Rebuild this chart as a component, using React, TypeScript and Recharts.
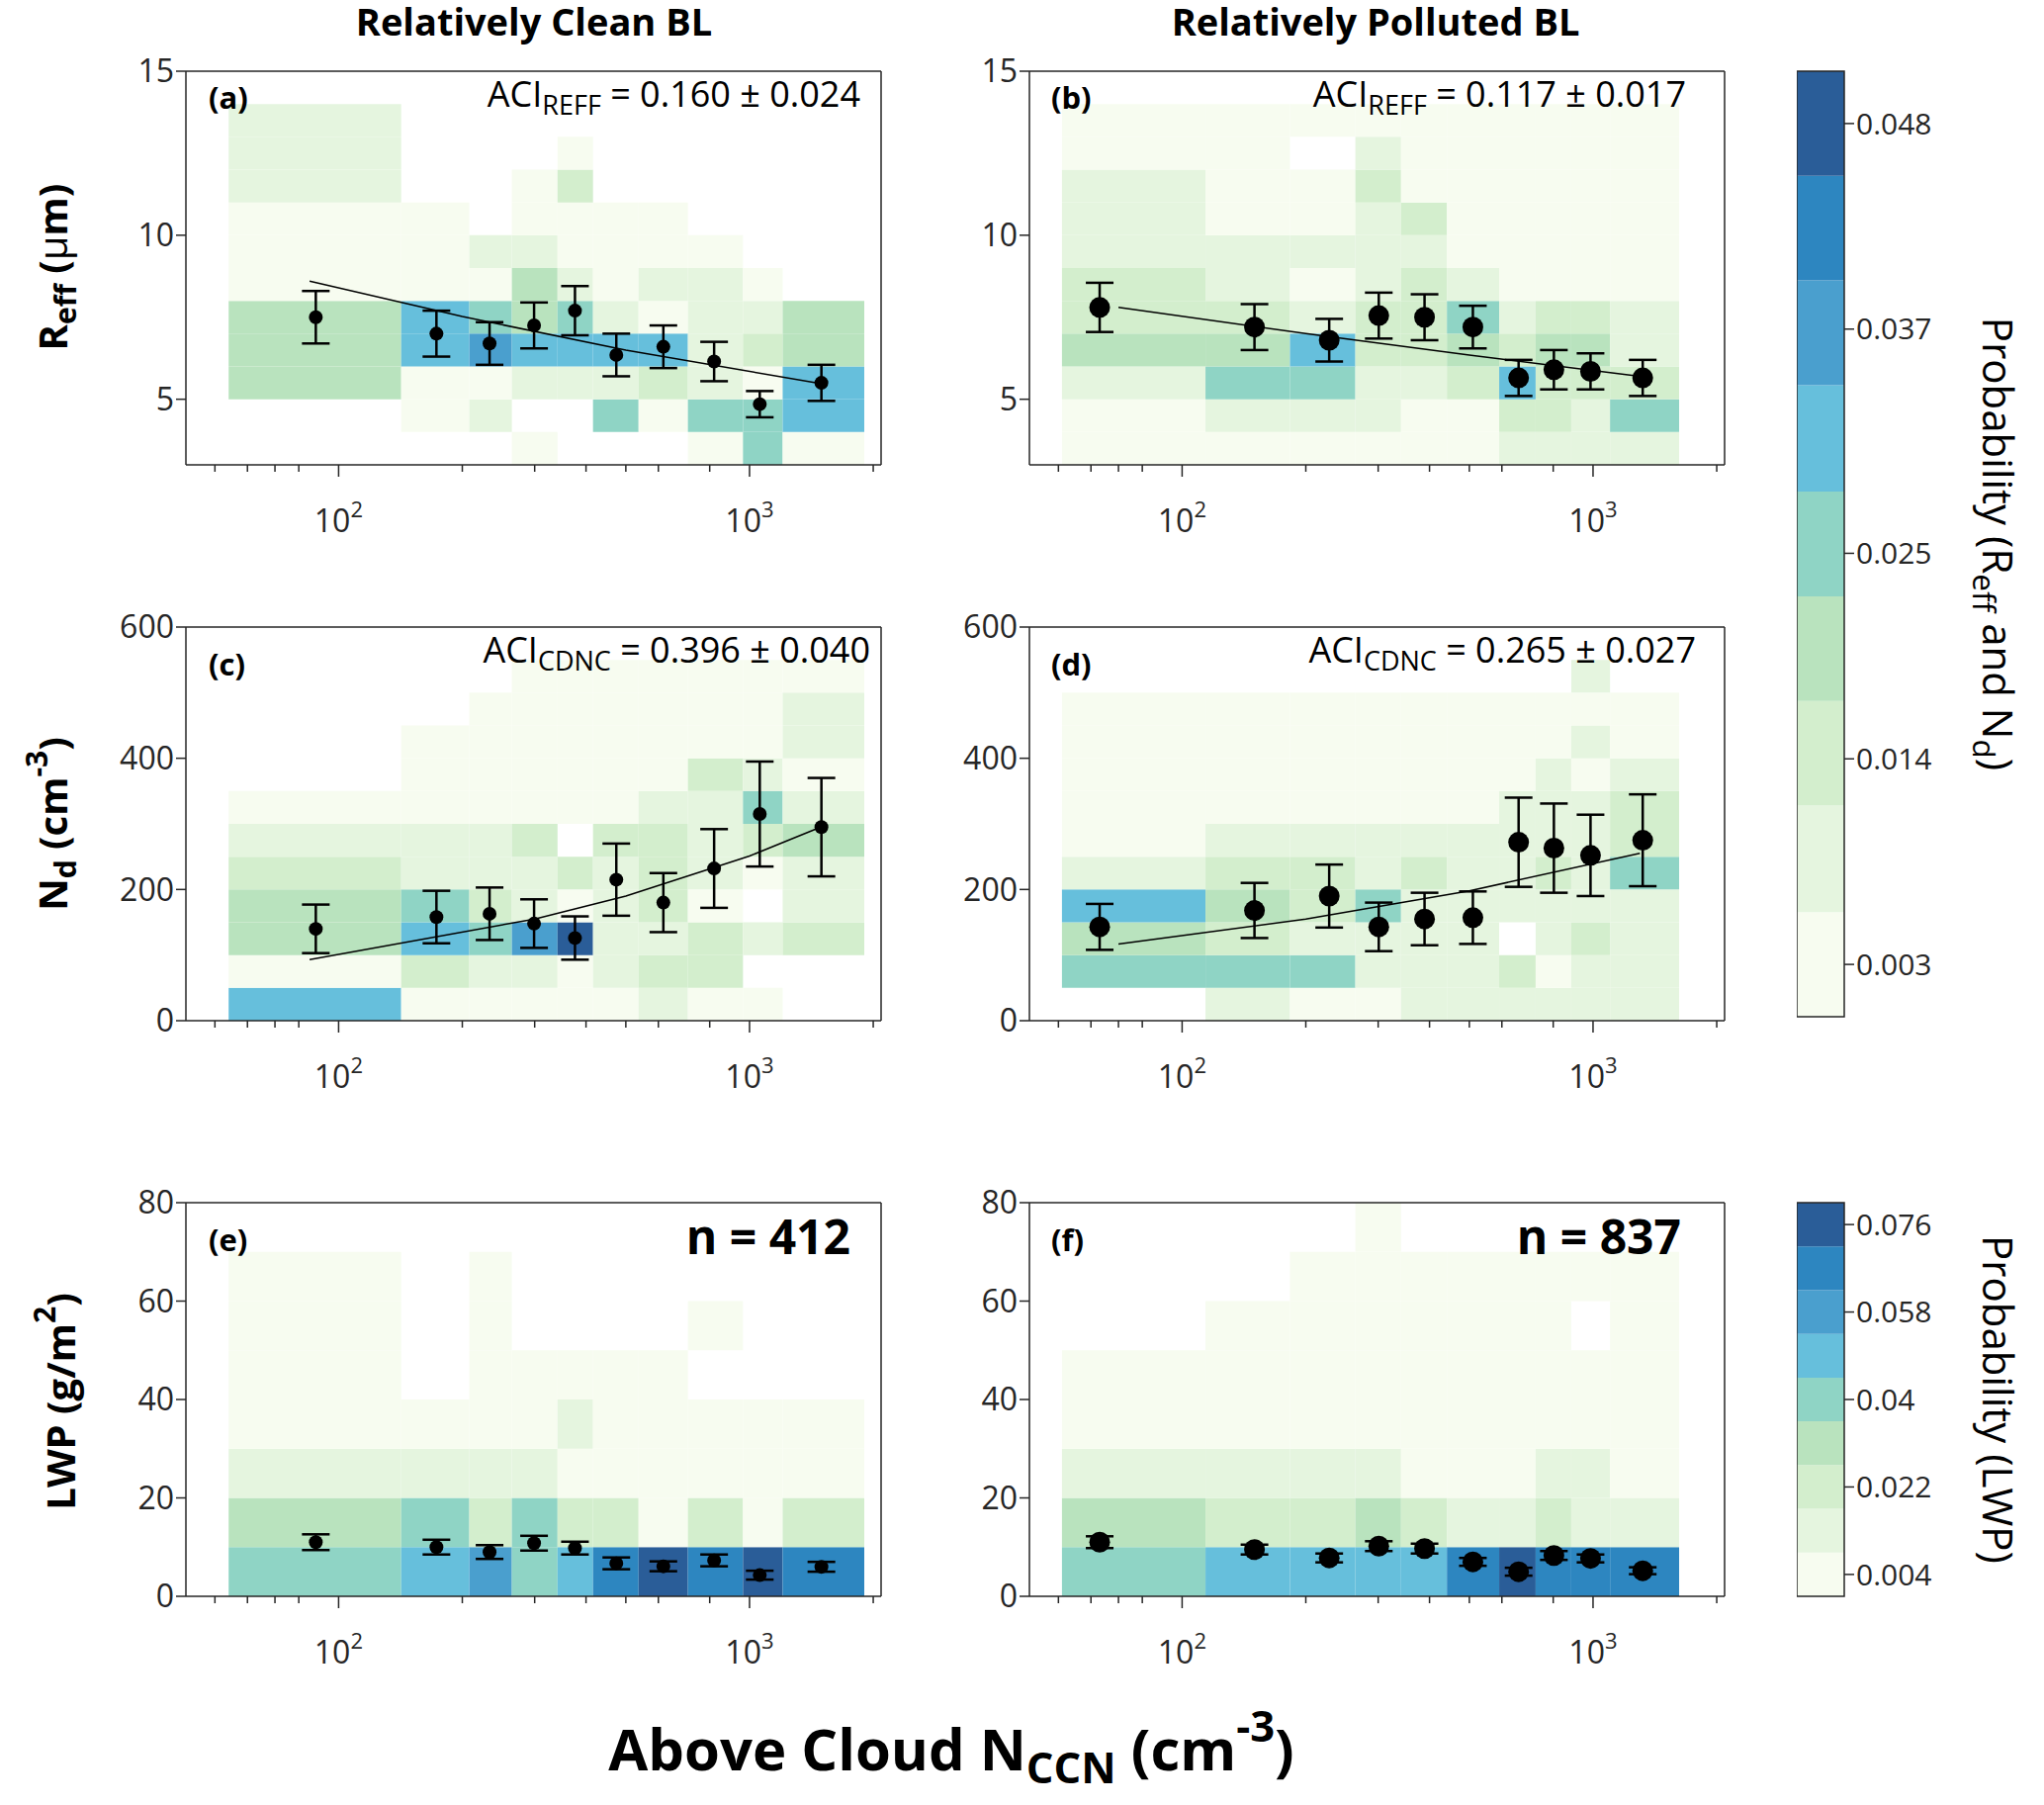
import React from 'react';
import { ScatterChart, Scatter, XAxis, YAxis, ReferenceArea, ErrorBar } from 'recharts';

// bin edges of the above-cloud N_CCN (cm^-3)
const cleanEdges = [54, 142, 208, 264, 341, 416, 537, 708, 964, 1204, 1902];
const pollutedEdges = [51, 114, 183, 264, 341, 441, 591, 725, 885, 1100, 1620];

const reffRows = [3, 4, 5, 6, 7, 8, 9, 10, 11, 12, 13, 14];
const ndRows = [0, 50, 100, 150, 200, 250, 300, 350, 400, 450, 500, 550];
const lwpRows = [0, 10, 20, 30, 40, 50, 60, 70, 80];

// probability x1000, rows from bottom
const cleanReffProb = [
  [0, 0, 0, 3, 0, 0, 0, 3, 25, 3],
  [0, 3, 8, 0, 0, 25, 3, 25, 25, 31],
  [19, 3, 3, 8, 8, 8, 14, 8, 3, 31],
  [19, 31, 37, 31, 31, 31, 31, 8, 14, 19],
  [19, 31, 25, 19, 25, 8, 3, 8, 8, 19],
  [3, 3, 3, 19, 8, 3, 8, 8, 3, 0],
  [3, 3, 8, 8, 3, 3, 3, 3, 0, 0],
  [3, 3, 0, 3, 3, 3, 3, 0, 0, 0],
  [8, 0, 0, 3, 14, 0, 0, 0, 0, 0],
  [8, 0, 0, 0, 3, 0, 0, 0, 0, 0],
  [8, 0, 0, 0, 0, 0, 0, 0, 0, 0],
];
const pollutedReffProb = [
  [3, 3, 3, 3, 3, 3, 8, 8, 8, 8],
  [3, 8, 8, 8, 3, 3, 14, 14, 8, 25],
  [8, 25, 25, 8, 8, 14, 31, 14, 14, 14],
  [19, 19, 31, 14, 14, 19, 14, 19, 19, 8],
  [14, 14, 8, 14, 14, 25, 8, 14, 14, 8],
  [14, 8, 3, 8, 14, 8, 3, 3, 3, 3],
  [8, 8, 8, 8, 8, 3, 3, 3, 3, 3],
  [8, 3, 3, 8, 14, 3, 3, 3, 3, 3],
  [8, 3, 3, 14, 3, 3, 3, 3, 3, 3],
  [3, 3, 0, 8, 3, 3, 3, 3, 3, 3],
  [3, 3, 3, 3, 3, 3, 3, 3, 3, 3],
];
const cleanNdProb = [
  [31, 3, 3, 3, 3, 3, 8, 3, 3, 0],
  [3, 14, 8, 8, 3, 8, 14, 14, 0, 0],
  [19, 31, 25, 37, 48, 8, 8, 14, 8, 14],
  [19, 25, 14, 8, 3, 8, 14, 3, 0, 8],
  [14, 8, 8, 8, 14, 8, 14, 8, 3, 8],
  [8, 8, 8, 14, 0, 14, 14, 8, 14, 19],
  [3, 3, 3, 3, 3, 3, 8, 8, 25, 8],
  [0, 3, 3, 3, 3, 3, 3, 14, 8, 3],
  [0, 3, 3, 3, 3, 3, 3, 3, 3, 8],
  [0, 0, 3, 3, 3, 3, 3, 3, 3, 8],
  [0, 0, 0, 3, 3, 3, 3, 3, 3, 3],
];
const pollutedNdProb = [
  [0, 8, 3, 3, 8, 8, 8, 8, 8, 8],
  [25, 25, 25, 8, 8, 8, 14, 3, 8, 8],
  [19, 14, 8, 8, 8, 8, 0, 8, 14, 8],
  [31, 19, 14, 25, 8, 8, 8, 8, 8, 8],
  [8, 14, 14, 8, 14, 8, 8, 14, 8, 25],
  [3, 8, 8, 8, 8, 8, 8, 8, 8, 14],
  [3, 3, 3, 3, 3, 3, 8, 8, 8, 14],
  [3, 3, 3, 3, 3, 3, 3, 8, 3, 8],
  [3, 3, 3, 3, 3, 3, 3, 3, 8, 3],
  [3, 3, 3, 3, 3, 3, 3, 3, 3, 3],
  [0, 0, 0, 0, 0, 0, 0, 0, 8, 0],
];
const cleanLwpProb = [
  [40, 49, 58, 40, 49, 67, 76, 67, 76, 67],
  [31, 40, 22, 40, 22, 22, 4, 22, 4, 22],
  [13, 13, 13, 13, 4, 4, 4, 4, 4, 4],
  [4, 4, 4, 4, 13, 4, 4, 4, 4, 4],
  [4, 0, 4, 4, 4, 4, 4, 0, 0, 0],
  [4, 0, 4, 0, 0, 0, 0, 4, 0, 0],
  [4, 0, 4, 0, 0, 0, 0, 0, 0, 0],
  [0, 0, 0, 0, 0, 0, 0, 0, 0, 0],
];
const pollutedLwpProb = [
  [40, 49, 49, 49, 49, 67, 76, 67, 67, 67],
  [31, 22, 22, 31, 22, 13, 13, 22, 13, 13],
  [13, 13, 13, 13, 4, 4, 4, 13, 13, 4],
  [4, 4, 4, 4, 4, 4, 4, 4, 4, 4],
  [4, 4, 4, 4, 4, 4, 4, 4, 4, 4],
  [0, 4, 4, 4, 4, 4, 4, 4, 0, 4],
  [0, 0, 4, 4, 4, 4, 4, 4, 4, 4],
  [0, 0, 0, 4, 0, 0, 0, 0, 0, 0],
];

// bin means with error bars
const cleanCcn = [88, 173, 233, 299, 376, 474, 617, 820, 1059, 1496];
const pollutedCcn = [63, 150, 228, 301, 389, 510, 659, 803, 986, 1321];
const cleanReff = [7.5, 7.0, 6.7, 7.25, 7.7, 6.35, 6.6, 6.15, 4.85, 5.5];
const cleanReffErr = [0.8, 0.7, 0.65, 0.7, 0.75, 0.65, 0.65, 0.6, 0.4, 0.55];
const pollutedReff = [7.8, 7.2, 6.8, 7.55, 7.5, 7.2, 5.65, 5.9, 5.85, 5.65];
const pollutedReffErr = [0.75, 0.7, 0.65, 0.7, 0.7, 0.65, 0.55, 0.6, 0.55, 0.55];
const cleanNd = [140, 158, 163, 148, 126, 215, 180, 232, 315, 295];
const cleanNdErr = [37, 40, 40, 37, 33, 55, 45, 60, 80, 75];
const pollutedNd = [143, 168, 190, 143, 155, 157, 272, 263, 252, 275];
const pollutedNdErr = [35, 42, 48, 37, 40, 40, 68, 68, 62, 70];
const cleanLwp = [11, 10, 9, 10.8, 9.8, 6.7, 6.1, 7.3, 4.3, 6.0];
const cleanLwpErr = [1.6, 1.5, 1.4, 1.5, 1.3, 1.2, 1.0, 1.2, 0.9, 1.0];
const pollutedLwp = [11, 9.5, 7.8, 10.2, 9.7, 7, 5, 8.3, 7.7, 5.2];
const pollutedLwpErr = [1.2, 1.0, 0.9, 1.0, 1.0, 0.8, 0.8, 0.9, 0.8, 0.7];

// fitted power-law lines
const cleanReffFit = [[85, 8.6], [200, 7.52], [500, 6.5], [1450, 5.5]];
const pollutedReffFit = [[70, 7.8], [200, 7.0], [500, 6.35], [1300, 5.7]];
const cleanNdFit = [[85, 93], [300, 155], [500, 190], [1000, 251], [1450, 292]];
const pollutedNdFit = [[70, 117], [200, 155], [500, 198], [1300, 255]];

const palette = ['#f7fcf0', '#e5f5df', '#d3eecd', '#b9e3be', '#8fd4c5', '#66bfdc', '#4a9fce', '#2d86c0', '#2a5d98'];
const topBandEdges = [0.0002, 0.0058, 0.0115, 0.0171, 0.0227, 0.0283, 0.034, 0.0396, 0.0452, 0.0508];
const topTicks = [0.003, 0.014, 0.025, 0.037, 0.048];
const lwpBandEdges = [-0.0005, 0.0085, 0.0175, 0.0265, 0.0355, 0.0445, 0.0535, 0.0625, 0.0715, 0.0805];
const lwpTicks = [0.004, 0.022, 0.04, 0.058, 0.076];

const logTicks = [50, 60, 70, 80, 90, 100, 200, 300, 400, 500, 600, 700, 800, 900, 1000, 2000];
const FONT = '"Open Sans", "Noto Sans", sans-serif';
const INK = '#262626';

const PW = 703;
const PH = 398;
const YW = 90;
const YR = 12;
const XT = 30;
const XB = 80;

function colorFor(v: number, edges: number[]) {
  if (v <= 0) return null;
  for (let i = 0; i < edges.length - 1; i++) if (v < edges[i + 1]) return palette[i];
  return palette[palette.length - 1];
}

const BottomTick = (props: any) => {
  const { x, y, payload } = props;
  const v = payload.value;
  const major = v === 100 || v === 1000;
  return (
    <g>
      <line x1={x} x2={x} y1={y} y2={y + (major ? 12 : 7)} stroke={INK} strokeWidth={1.5} />
      {major && (
        <text x={x} y={y + 68} textAnchor="middle" fontSize={32} fill={INK} fontFamily={FONT}>
          10<tspan dy={-15} fontSize={22}>{v === 100 ? 2 : 3}</tspan>
        </text>
      )}
    </g>
  );
};

const TopTick = (props: any) => {
  const { x, y, payload } = props;
  const major = payload.value === 100 || payload.value === 1000;
  return <line x1={x} x2={x} y1={y} y2={y - (major ? 12 : 7)} stroke={INK} strokeWidth={1.5} />;
};

function Panel(props: any) {
  const { left, top, edges, rows, grid, yDomain, yTicks, ccn, vals, errs, fit, r, bands } = props;
  const pts = ccn.map((x: number, i: number) => ({ x, y: vals[i], err: errs[i] }));
  const fitPts = fit ? fit.map((p: number[]) => ({ x: p[0], y: p[1] })) : [];
  const cells: any[] = [];
  grid.forEach((row: number[], ri: number) =>
    row.forEach((v: number, ci: number) => {
      const c = colorFor(v / 1000, bands);
      if (c)
        cells.push(
          <ReferenceArea key={ri + '-' + ci} x1={edges[ci]} x2={edges[ci + 1]} y1={rows[ri]} y2={rows[ri + 1]}
            fill={c} fillOpacity={1} stroke="none" />
        );
    })
  );
  return (
    <div style={{ position: 'absolute', left: left - YW, top: top - XT }}>
      <ScatterChart width={YW + PW + YR} height={XT + PH + XB} margin={{ top: 0, right: 0, bottom: 0, left: 0 }}>
        <XAxis dataKey="x" type="number" scale="log" domain={[42.5, 2090]} ticks={logTicks} allowDataOverflow
          height={XB} tickSize={0} tickMargin={0} tick={<BottomTick />} stroke={INK} strokeWidth={1.5} />
        <XAxis xAxisId="top" orientation="top" type="number" scale="log" domain={[42.5, 2090]} ticks={logTicks}
          allowDataOverflow height={XT} tickSize={0} tickMargin={0} tick={<TopTick />} stroke={INK} strokeWidth={1.5} />
        <YAxis dataKey="y" type="number" domain={yDomain} ticks={yTicks} width={YW} tickSize={10}
          stroke={INK} strokeWidth={1.5} tick={{ fontSize: 32, fill: INK, fontFamily: FONT }} />
        <YAxis yAxisId="r" orientation="right" type="number" domain={yDomain} ticks={yTicks} width={YR} tickSize={10}
          tickFormatter={() => ''} stroke={INK} strokeWidth={1.5} />
        {cells}
        {fit && (
          <Scatter data={fitPts} line={{ stroke: '#000', strokeWidth: 1.5 }} lineType="joint"
            shape={() => <g />} isAnimationActive={false} />
        )}
        <Scatter data={pts} fill="#000" isAnimationActive={false}
          shape={(p: any) => <circle cx={p.cx} cy={p.cy} r={r} fill="#000" />}>
          <ErrorBar dataKey="err" direction="y" width={14} stroke="#000" strokeWidth={2.5} />
        </Scatter>
      </ScatterChart>
    </div>
  );
}

function ColorBar(props: any) {
  const { top, height, edges, ticks, digits } = props;
  const w = 48;
  const lo = edges[0];
  const hi = edges[edges.length - 1];
  const anchor = [{ x: 0.5, y: lo }, { x: 0.5, y: hi }];
  return (
    <div style={{ position: 'absolute', left: 1817, top: top - 20 }}>
      <ScatterChart width={w + 130} height={height + 40} margin={{ top: 20, right: 0, bottom: 20, left: 0 }}>
        <XAxis type="number" dataKey="x" domain={[0, 1]} hide />
        <YAxis orientation="right" type="number" dataKey="y" domain={[lo, hi]} allowDataOverflow
          ticks={ticks} width={130} tickSize={10} axisLine={false} stroke={INK} strokeWidth={1.5}
          tickFormatter={(v: number) => (digits ? v.toFixed(digits) : String(v))}
          tick={{ fontSize: 30, fill: INK, fontFamily: FONT, textAnchor: 'start' }} />
        {palette.map((c, i) => (
          <ReferenceArea key={i} x1={0} x2={1} y1={edges[i]} y2={edges[i + 1]} fill={c} fillOpacity={1} stroke="none" />
        ))}
        <ReferenceArea x1={0} x2={1} y1={lo} y2={hi} fill="none" fillOpacity={0} stroke={INK} strokeWidth={1.5} />
        <Scatter data={anchor} isAnimationActive={false} shape={() => <g />} />
      </ScatterChart>
    </div>
  );
}

const Sub = ({ children }: any) => <tspan baselineShift="-30%" fontSize="75%">{children}</tspan>;

export default function App() {
  const tops = [72, 634, 1216];
  return (
    <div style={{ position: 'absolute', left: 0, top: 0, width: 2067, height: 1825, background: '#fff', fontFamily: FONT }}>
      <Panel left={188} top={tops[0]} edges={cleanEdges} rows={reffRows} grid={cleanReffProb} yDomain={[3, 15]}
        yTicks={[5, 10, 15]} ccn={cleanCcn} vals={cleanReff} errs={cleanReffErr} fit={cleanReffFit} r={7} bands={topBandEdges} />
      <Panel left={1041} top={tops[0]} edges={pollutedEdges} rows={reffRows} grid={pollutedReffProb} yDomain={[3, 15]}
        yTicks={[5, 10, 15]} ccn={pollutedCcn} vals={pollutedReff} errs={pollutedReffErr} fit={pollutedReffFit} r={10.5} bands={topBandEdges} />
      <Panel left={188} top={tops[1]} edges={cleanEdges} rows={ndRows} grid={cleanNdProb} yDomain={[0, 600]}
        yTicks={[0, 200, 400, 600]} ccn={cleanCcn} vals={cleanNd} errs={cleanNdErr} fit={cleanNdFit} r={7} bands={topBandEdges} />
      <Panel left={1041} top={tops[1]} edges={pollutedEdges} rows={ndRows} grid={pollutedNdProb} yDomain={[0, 600]}
        yTicks={[0, 200, 400, 600]} ccn={pollutedCcn} vals={pollutedNd} errs={pollutedNdErr} fit={pollutedNdFit} r={10.5} bands={topBandEdges} />
      <Panel left={188} top={tops[2]} edges={cleanEdges} rows={lwpRows} grid={cleanLwpProb} yDomain={[0, 80]}
        yTicks={[0, 20, 40, 60, 80]} ccn={cleanCcn} vals={cleanLwp} errs={cleanLwpErr} r={7} bands={lwpBandEdges} />
      <Panel left={1041} top={tops[2]} edges={pollutedEdges} rows={lwpRows} grid={pollutedLwpProb} yDomain={[0, 80]}
        yTicks={[0, 20, 40, 60, 80]} ccn={pollutedCcn} vals={pollutedLwp} errs={pollutedLwpErr} r={10.5} bands={lwpBandEdges} />
      <ColorBar top={72} height={956} edges={topBandEdges} ticks={topTicks} digits={3} />
      <ColorBar top={1216} height={398} edges={lwpBandEdges} ticks={lwpTicks} />
      <svg width={2067} height={1825} style={{ position: 'absolute', left: 0, top: 0, pointerEvents: 'none' }} fontFamily={FONT} fill="#000">
        <text x={540} y={36} textAnchor="middle" fontSize={38} fontWeight="bold">Relatively Clean BL</text>
        <text x={1391} y={36} textAnchor="middle" fontSize={38} fontWeight="bold">Relatively Polluted BL</text>
        {[['(a)', 211, 110], ['(b)', 1063, 110], ['(c)', 211, 683], ['(d)', 1063, 683], ['(e)', 211, 1265], ['(f)', 1063, 1265]].map((t: any) => (
          <text key={t[0]} x={t[1]} y={t[2]} fontSize={31} fontWeight="bold">{t[0]}</text>
        ))}
        <text x={870} y={108} textAnchor="end" fontSize={36}>ACI<Sub>REFF</Sub><tspan> = 0.160 ± 0.024</tspan></text>
        <text x={1705} y={108} textAnchor="end" fontSize={36}>ACI<Sub>REFF</Sub><tspan> = 0.117 ± 0.017</tspan></text>
        <text x={880} y={670} textAnchor="end" fontSize={36}>ACI<Sub>CDNC</Sub><tspan> = 0.396 ± 0.040</tspan></text>
        <text x={1715} y={670} textAnchor="end" fontSize={36}>ACI<Sub>CDNC</Sub><tspan> = 0.265 ± 0.027</tspan></text>
        <text x={860} y={1268} textAnchor="end" fontSize={48} fontWeight="bold">n = 412</text>
        <text x={1700} y={1268} textAnchor="end" fontSize={48} fontWeight="bold">n = 837</text>
        <text transform="translate(68,270) rotate(-90)" textAnchor="middle" fontSize={40} fontWeight="bold">R<Sub>eff</Sub><tspan> (</tspan><tspan fontWeight="normal">μ</tspan>m)</text>
        <text transform="translate(68,833) rotate(-90)" textAnchor="middle" fontSize={40} fontWeight="bold">N<Sub>d</Sub><tspan> (cm</tspan><tspan baselineShift="super" fontSize="75%">-3</tspan><tspan>)</tspan></text>
        <text transform="translate(76,1417) rotate(-90)" textAnchor="middle" fontSize={40} fontWeight="bold">LWP (g/m<tspan baselineShift="super" fontSize="75%">2</tspan>)</text>
        <text x={962} y={1790} textAnchor="middle" fontSize={58} fontWeight="bold">Above Cloud N<Sub>CCN</Sub><tspan> (cm</tspan><tspan baselineShift="super" fontSize="75%">-3</tspan><tspan>)</tspan></text>
        <text transform="translate(2005,550) rotate(90)" textAnchor="middle" fontSize={42}>Probability (R<Sub>eff</Sub><tspan> and N</tspan><Sub>d</Sub><tspan>)</tspan></text>
        <text transform="translate(2005,1415) rotate(90)" textAnchor="middle" fontSize={42}>Probability (LWP)</text>
      </svg>
    </div>
  );
}
